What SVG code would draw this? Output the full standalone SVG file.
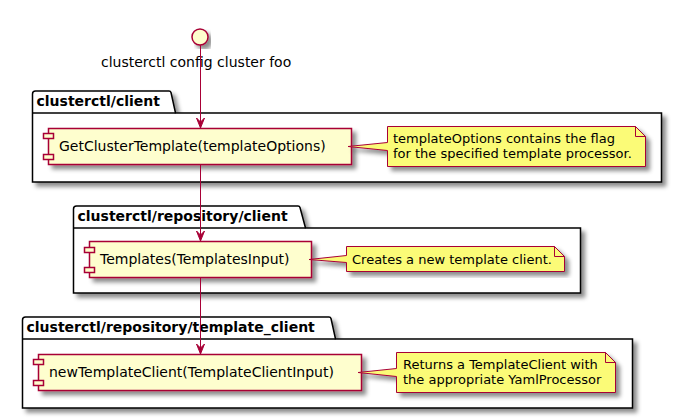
<svg xmlns="http://www.w3.org/2000/svg" width="682" height="419" viewBox="0 0 682 419">
<style>
text{font-family:"DejaVu Sans",sans-serif;fill:#000}
.t{font-size:14px}
.n{font-size:13px}
.p{font-size:14px;font-weight:bold}
.pk{fill:#fff;stroke:#000;stroke-width:1.5}
.c{fill:#FEFECE;stroke:#A80036;stroke-width:1.5}
.note{fill:#FBFB77;stroke:#A80036;stroke-width:1}
.l{fill:none;stroke:#A80036;stroke-width:1}
.a{fill:none;stroke:#A80036;stroke-width:1}
.h{fill:#A80036;stroke:#A80036;stroke-width:1}
</style>
<defs>
<filter id="s" x="-5%" y="-15%" width="112%" height="140%">
<feGaussianBlur stdDeviation="2"/>
</filter>
<filter id="sh" x="-10%" y="-20%" width="125%" height="145%">
<feGaussianBlur in="SourceAlpha" stdDeviation="2" result="b"/>
<feOffset in="b" dx="4" dy="4" result="o"/>
<feFlood flood-color="#000" flood-opacity="0.45"/>
<feComposite in2="o" operator="in" result="f"/>
<feMerge><feMergeNode in="f"/><feMergeNode in="SourceGraphic"/></feMerge>
</filter>
<marker id="ah" markerUnits="userSpaceOnUse" markerWidth="12" markerHeight="12" refX="10" refY="6" orient="auto">
<path d="M0,2 L10,6 L0,10 L4,6 Z" fill="#A80036" stroke="#A80036" stroke-width="1"/>
</marker>
</defs>
<g id="pkg-client">
<path class="pk" filter="url(#sh)" d="M35.5,91 H169 Q170.5,91 171,92.5 L175.5,113 H661.5 V182 H32.5 V94 Q32.5,91 35.5,91 Z"/>
<path d="M32.5,113 H175.5" class="pk"/>
<text class="p" x="36.5" y="106">clusterctl/client</text>
</g>
<g id="pkg-repository-client">
<path class="pk" filter="url(#sh)" d="M76.5,206 H298 Q299.5,206 300,207.5 L305.5,228 H580.5 V293 H73.5 V209 Q73.5,206 76.5,206 Z"/>
<path d="M73.5,228 H305.5" class="pk"/>
<text class="p" x="77.5" y="221">clusterctl/repository/client</text>
</g>
<g id="pkg-template-client">
<path class="pk" filter="url(#sh)" d="M25.5,317 H329 Q330.5,317 331,318.5 L335.5,339 H632.5 V408 H22.5 V320 Q22.5,317 25.5,317 Z"/>
<path d="M22.5,339 H335.5" class="pk"/>
<text class="p" x="26.5" y="332">clusterctl/repository/template_client</text>
</g>
<g id="start">
<circle class="c" filter="url(#sh)" cx="200" cy="37" r="8"/>
<text class="t" x="101" y="67">clusterctl config cluster foo</text>
</g>
<g id="GetClusterTemplate">
<rect class="c" filter="url(#sh)" x="48.5" y="128.5" width="303" height="36"/>
<rect class="c" x="43.5" y="133.5" width="10" height="5"/>
<rect class="c" x="43.5" y="154.5" width="10" height="5"/>
<text class="t" x="59" y="151">GetClusterTemplate(templateOptions)</text>
</g>
<g id="Templates">
<rect class="c" filter="url(#sh)" x="89.5" y="241.5" width="222" height="36"/>
<rect class="c" x="84.5" y="247.5" width="10" height="5"/>
<rect class="c" x="84.5" y="267.5" width="10" height="5"/>
<text class="t" x="100" y="264">Templates(TemplatesInput)</text>
</g>
<g id="newTemplateClient">
<rect class="c" filter="url(#sh)" x="38.5" y="354.5" width="323" height="36"/>
<rect class="c" x="33.5" y="359.5" width="10" height="5"/>
<rect class="c" x="33.5" y="380.5" width="10" height="5"/>
<text class="t" x="49" y="377">newTemplateClient(TemplateClientInput)</text>
</g>
<g id="note1">
<path class="note" filter="url(#sh)" d="M387.5,126.5 H635.5 L645.5,136.5 V166.5 H387.5 V150.5 L348,146.5 L387.5,142.5 Z"/>
<path class="note" d="M635.5,126.5 V136.5 H645.5 Z" />
<text class="n" x="393" y="143">templateOptions contains the flag</text>
<text class="n" x="393" y="158">for the specified template processor.</text>
</g>
<g id="note2">
<path class="note" filter="url(#sh)" d="M346.5,246.5 H554.5 L564.5,256.5 V271.5 H346.5 V262.5 L309,259.5 L346.5,255.5 Z"/>
<path class="note" d="M554.5,246.5 V256.5 H564.5 Z"/>
<text class="n" x="352" y="264">Creates a new template client.</text>
</g>
<g id="note3">
<path class="note" filter="url(#sh)" d="M396.5,352.5 H605.5 L615.5,362.5 V392.5 H396.5 V376.5 L358,372.5 L396.5,368.5 Z"/>
<path class="note" d="M605.5,352.5 V362.5 H615.5 Z"/>
<text class="n" x="403" y="369">Returns a TemplateClient with</text>
<text class="n" x="403" y="384">the appropriate YamlProcessor</text>
</g>
<g id="connectors">
<path class="a" marker-end="url(#ah)" d="M200.5,45 V128"/>
<path class="a" marker-end="url(#ah)" d="M200.5,165 V241"/>
<path class="a" marker-end="url(#ah)" d="M200.5,278 V354"/>
</g>
</svg>
